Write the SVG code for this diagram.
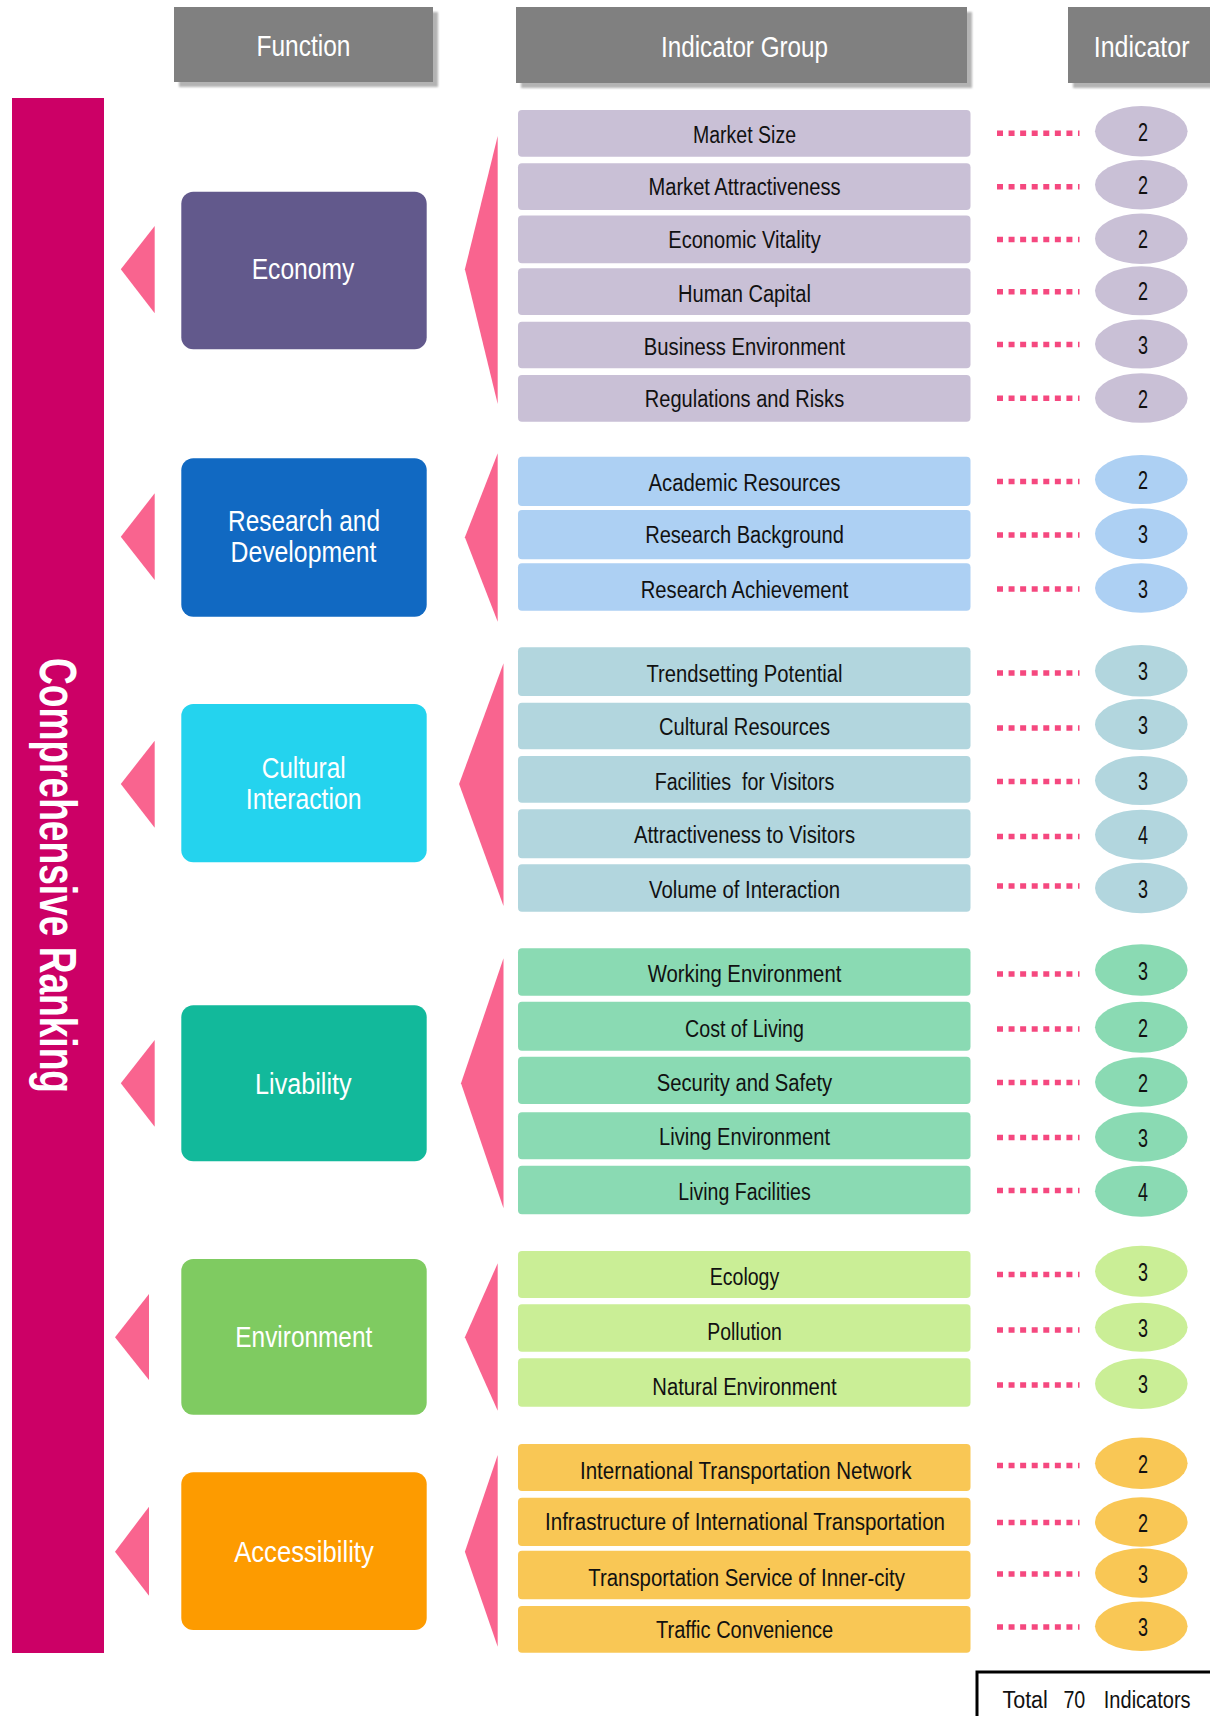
<svg xmlns="http://www.w3.org/2000/svg" width="1210" height="1716" viewBox="0 0 1210 1716">
<defs>
<filter id="sh" x="-10%" y="-10%" width="130%" height="140%">
<feDropShadow dx="5" dy="5" stdDeviation="1.2" flood-color="#9a9a9a" flood-opacity="0.75"/>
</filter>
<style>
text{font-family:"Liberation Sans",Arial,sans-serif;}
.hdr{fill:#808080;filter:url(#sh);}
.ht{fill:#fff;font-size:30px;text-anchor:middle;}
.fn{fill:#fff;font-size:30px;text-anchor:middle;}
.rt{fill:#111;font-size:23px;text-anchor:middle;}
.nt{fill:#111;font-size:26px;text-anchor:middle;}
.tri{fill:#F9648F;}
.dot{stroke:#F5487F;stroke-width:5.5;stroke-dasharray:6 5.57;fill:none;}
.eco{fill:#C9C0D6;}.rnd{fill:#ADD0F3;}.cul{fill:#B2D6DE;}.liv{fill:#8ADAB3;}.env{fill:#CAEE96;}.acc{fill:#F9C755;}
</style>
</defs>
<rect width="1210" height="1716" fill="#fff"/>

<g id="headers">
<g id="hdr-function"><rect class="hdr" x="174" y="7" width="259" height="75"/><text class="ht" x="303.5" y="56" textLength="94" lengthAdjust="spacingAndGlyphs">Function</text></g>
<g id="hdr-group"><rect class="hdr" x="516" y="7" width="451" height="76"/><text class="ht" x="744.5" y="56.7" textLength="167" lengthAdjust="spacingAndGlyphs">Indicator Group</text></g>
<g id="hdr-indicator"><rect class="hdr" x="1068" y="7" width="150" height="76"/><text class="ht" x="1141.6" y="56.7" textLength="95.7" lengthAdjust="spacingAndGlyphs">Indicator</text></g>
</g>

<g id="ranking">
<rect x="12" y="98" width="92" height="1555" fill="#CC0066"/>
<text transform="translate(40,875.5) rotate(90)" text-anchor="middle" font-size="52" font-weight="bold" fill="#fff" textLength="435" lengthAdjust="spacingAndGlyphs">Comprehensive Ranking</text>
</g>

<g id="connectors">
<polygon class="tri" points="120.8,269.3 154.7,226 154.7,313.3"/>
<polygon class="tri" points="120.8,536.7 154.7,493.3 154.7,580"/>
<polygon class="tri" points="120.8,784 154.7,740.7 154.7,827.7"/>
<polygon class="tri" points="120.8,1083.3 154.7,1040 154.7,1126.7"/>
<polygon class="tri" points="115,1337.3 149,1294 149,1380"/>
<polygon class="tri" points="115,1551.7 149,1506.7 149,1595.7"/>
<polygon class="tri" points="464.9,269.3 497.7,136 497.7,404"/>
<polygon class="tri" points="464.9,537.3 497.7,453.3 497.7,621.7"/>
<polygon class="tri" points="459.1,784 503.5,663.3 503.5,906"/>
<polygon class="tri" points="461,1083.3 503.5,958.3 503.5,1208.3"/>
<polygon class="tri" points="464.9,1337.3 497.7,1263.3 497.7,1410.7"/>
<polygon class="tri" points="464.9,1551.7 497.7,1455 497.7,1646.7"/>
<line class="dot" x1="997" y1="133.3" x2="1079.5" y2="133.3"/>
<line class="dot" x1="997" y1="186.7" x2="1079.5" y2="186.7"/>
<line class="dot" x1="997" y1="239.5" x2="1079.5" y2="239.5"/>
<line class="dot" x1="997" y1="291.7" x2="1079.5" y2="291.7"/>
<line class="dot" x1="997" y1="344.5" x2="1079.5" y2="344.5"/>
<line class="dot" x1="997" y1="398.3" x2="1079.5" y2="398.3"/>
<line class="dot" x1="997" y1="481.5" x2="1079.5" y2="481.5"/>
<line class="dot" x1="997" y1="535" x2="1079.5" y2="535"/>
<line class="dot" x1="997" y1="589" x2="1079.5" y2="589"/>
<line class="dot" x1="997" y1="673" x2="1079.5" y2="673"/>
<line class="dot" x1="997" y1="728" x2="1079.5" y2="728"/>
<line class="dot" x1="997" y1="781.5" x2="1079.5" y2="781.5"/>
<line class="dot" x1="997" y1="836.5" x2="1079.5" y2="836.5"/>
<line class="dot" x1="997" y1="886" x2="1079.5" y2="886"/>
<line class="dot" x1="997" y1="974" x2="1079.5" y2="974"/>
<line class="dot" x1="997" y1="1029" x2="1079.5" y2="1029"/>
<line class="dot" x1="997" y1="1082.5" x2="1079.5" y2="1082.5"/>
<line class="dot" x1="997" y1="1137.5" x2="1079.5" y2="1137.5"/>
<line class="dot" x1="997" y1="1190.5" x2="1079.5" y2="1190.5"/>
<line class="dot" x1="997" y1="1274.5" x2="1079.5" y2="1274.5"/>
<line class="dot" x1="997" y1="1330" x2="1079.5" y2="1330"/>
<line class="dot" x1="997" y1="1385" x2="1079.5" y2="1385"/>
<line class="dot" x1="997" y1="1465.5" x2="1079.5" y2="1465.5"/>
<line class="dot" x1="997" y1="1522.5" x2="1079.5" y2="1522.5"/>
<line class="dot" x1="997" y1="1574" x2="1079.5" y2="1574"/>
<line class="dot" x1="997" y1="1627" x2="1079.5" y2="1627"/>
</g>

<g id="functions">
<g id="fn-economy"><rect x="181.3" y="191.7" width="245.4" height="157.6" rx="12" fill="#62598C"/><text class="fn" x="303" y="279.3" textLength="102.6" lengthAdjust="spacingAndGlyphs">Economy</text></g>
<g id="fn-rnd"><rect x="181.3" y="458.3" width="245.4" height="158.4" rx="12" fill="#1169C2"/><text class="fn" x="304" y="531" textLength="152" lengthAdjust="spacingAndGlyphs">Research and</text><text class="fn" x="303.5" y="562.3" textLength="146" lengthAdjust="spacingAndGlyphs">Development</text></g>
<g id="fn-cultural"><rect x="181.3" y="704" width="245.4" height="158.3" rx="12" fill="#24D3EE"/><text class="fn" x="303.7" y="777.7" textLength="84" lengthAdjust="spacingAndGlyphs">Cultural</text><text class="fn" x="303.7" y="809" textLength="115.7" lengthAdjust="spacingAndGlyphs">Interaction</text></g>
<g id="fn-livability"><rect x="181.3" y="1005.3" width="245.4" height="156" rx="12" fill="#12B99B"/><text class="fn" x="303.3" y="1094" textLength="96.5" lengthAdjust="spacingAndGlyphs">Livability</text></g>
<g id="fn-environment"><rect x="181.3" y="1259" width="245.4" height="155.7" rx="12" fill="#7FCB61"/><text class="fn" x="303.8" y="1346.7" textLength="137" lengthAdjust="spacingAndGlyphs">Environment</text></g>
<g id="fn-accessibility"><rect x="181.3" y="1472.3" width="245.4" height="157.7" rx="12" fill="#FD9B00"/><text class="fn" x="304" y="1561.7" textLength="139.6" lengthAdjust="spacingAndGlyphs">Accessibility</text></g>
</g>

<g id="groups">
<g id="g-market-size"><rect class="eco" x="518" y="110" width="452.5" height="46.7" rx="4"/><text class="rt" x="744.5" y="143.3" textLength="103" lengthAdjust="spacingAndGlyphs">Market Size</text></g>
<g id="g-market-attr"><rect class="eco" x="518" y="163.3" width="452.5" height="46.7" rx="4"/><text class="rt" x="744.5" y="195" textLength="192" lengthAdjust="spacingAndGlyphs">Market Attractiveness</text></g>
<g id="g-econ-vitality"><rect class="eco" x="518" y="215.5" width="452.5" height="47.8" rx="4"/><text class="rt" x="744.5" y="248.3" textLength="152.4" lengthAdjust="spacingAndGlyphs">Economic Vitality</text></g>
<g id="g-human-capital"><rect class="eco" x="518" y="268.3" width="452.5" height="46.7" rx="4"/><text class="rt" x="744.5" y="301.7" textLength="133" lengthAdjust="spacingAndGlyphs">Human Capital</text></g>
<g id="g-business-env"><rect class="eco" x="518" y="321.7" width="452.5" height="46.6" rx="4"/><text class="rt" x="744.5" y="355" textLength="201.4" lengthAdjust="spacingAndGlyphs">Business Environment</text></g>
<g id="g-regulations"><rect class="eco" x="518" y="375" width="452.5" height="46.7" rx="4"/><text class="rt" x="744.5" y="407.3" textLength="199.3" lengthAdjust="spacingAndGlyphs">Regulations and Risks</text></g>

<g id="g-academic"><rect class="rnd" x="518" y="456.7" width="452.5" height="49.3" rx="4"/><text class="rt" x="744.5" y="490.7" textLength="192" lengthAdjust="spacingAndGlyphs">Academic Resources</text></g>
<g id="g-research-bg"><rect class="rnd" x="518" y="510" width="452.5" height="49.3" rx="4"/><text class="rt" x="744.5" y="543.3" textLength="198.7" lengthAdjust="spacingAndGlyphs">Research Background</text></g>
<g id="g-research-ach"><rect class="rnd" x="518" y="563.3" width="452.5" height="47.4" rx="4"/><text class="rt" x="744.5" y="598.3" textLength="207.5" lengthAdjust="spacingAndGlyphs">Research Achievement</text></g>

<g id="g-trendsetting"><rect class="cul" x="518" y="647.3" width="452.5" height="48.7" rx="4"/><text class="rt" x="744.5" y="681.7" textLength="196" lengthAdjust="spacingAndGlyphs">Trendsetting Potential</text></g>
<g id="g-cultural-res"><rect class="cul" x="518" y="702.7" width="452.5" height="46.6" rx="4"/><text class="rt" x="744.5" y="735" textLength="171" lengthAdjust="spacingAndGlyphs">Cultural Resources</text></g>
<g id="g-facilities"><rect class="cul" x="518" y="756" width="452.5" height="46.7" rx="4"/><text class="rt" x="744.5" y="790" textLength="179.6" lengthAdjust="spacingAndGlyphs" xml:space="preserve">Facilities  for Visitors</text></g>
<g id="g-attractiveness"><rect class="cul" x="518" y="809.3" width="452.5" height="49" rx="4"/><text class="rt" x="744.5" y="843.3" textLength="221" lengthAdjust="spacingAndGlyphs">Attractiveness to Visitors</text></g>
<g id="g-volume"><rect class="cul" x="518" y="864.3" width="452.5" height="47.4" rx="4"/><text class="rt" x="744.5" y="898.3" textLength="191" lengthAdjust="spacingAndGlyphs">Volume of Interaction</text></g>

<g id="g-working-env"><rect class="liv" x="518" y="948.3" width="452.5" height="47.4" rx="4"/><text class="rt" x="744.5" y="981.7" textLength="193.7" lengthAdjust="spacingAndGlyphs">Working Environment</text></g>
<g id="g-cost"><rect class="liv" x="518" y="1001.7" width="452.5" height="49" rx="4"/><text class="rt" x="744.5" y="1036.7" textLength="118.8" lengthAdjust="spacingAndGlyphs">Cost of Living</text></g>
<g id="g-security"><rect class="liv" x="518" y="1056.7" width="452.5" height="47.3" rx="4"/><text class="rt" x="744.5" y="1091" textLength="175.5" lengthAdjust="spacingAndGlyphs">Security and Safety</text></g>
<g id="g-living-env"><rect class="liv" x="518" y="1112.3" width="452.5" height="47" rx="4"/><text class="rt" x="744.5" y="1145" textLength="171" lengthAdjust="spacingAndGlyphs">Living Environment</text></g>
<g id="g-living-fac"><rect class="liv" x="518" y="1165.7" width="452.5" height="48.6" rx="4"/><text class="rt" x="744.5" y="1200" textLength="132.3" lengthAdjust="spacingAndGlyphs">Living Facilities</text></g>

<g id="g-ecology"><rect class="env" x="518" y="1251" width="452.5" height="47" rx="4"/><text class="rt" x="744.5" y="1285" textLength="69.5" lengthAdjust="spacingAndGlyphs">Ecology</text></g>
<g id="g-pollution"><rect class="env" x="518" y="1304.3" width="452.5" height="47.4" rx="4"/><text class="rt" x="744.5" y="1340" textLength="74.5" lengthAdjust="spacingAndGlyphs">Pollution</text></g>
<g id="g-natural"><rect class="env" x="518" y="1358.3" width="452.5" height="48.4" rx="4"/><text class="rt" x="744.5" y="1395" textLength="184.4" lengthAdjust="spacingAndGlyphs">Natural Environment</text></g>

<g id="g-intl-network"><rect class="acc" x="518" y="1444" width="452.5" height="47" rx="4"/><text class="rt" x="745.8" y="1479.3" textLength="331.7" lengthAdjust="spacingAndGlyphs">International Transportation Network</text></g>
<g id="g-infrastructure"><rect class="acc" x="518" y="1497.7" width="452.5" height="48.3" rx="4"/><text class="rt" x="745" y="1530" textLength="400" lengthAdjust="spacingAndGlyphs">Infrastructure of International Transportation</text></g>
<g id="g-inner-city"><rect class="acc" x="518" y="1550.7" width="452.5" height="48.6" rx="4"/><text class="rt" x="746.6" y="1586" textLength="316.7" lengthAdjust="spacingAndGlyphs">Transportation Service of Inner-city</text></g>
<g id="g-traffic"><rect class="acc" x="518" y="1606" width="452.5" height="46.7" rx="4"/><text class="rt" x="744.6" y="1638.3" textLength="177.3" lengthAdjust="spacingAndGlyphs">Traffic Convenience</text></g>
</g>

<g id="indicators">
<g><ellipse class="eco" cx="1141.3" cy="131.3" rx="46.3" ry="25.2"/><text class="nt" x="1143" y="140.8" textLength="10" lengthAdjust="spacingAndGlyphs">2</text></g>
<g><ellipse class="eco" cx="1141.3" cy="184.7" rx="46.3" ry="24.7"/><text class="nt" x="1143" y="194.2" textLength="10" lengthAdjust="spacingAndGlyphs">2</text></g>
<g><ellipse class="eco" cx="1141.3" cy="238.7" rx="46.3" ry="25.2"/><text class="nt" x="1143" y="248.2" textLength="10" lengthAdjust="spacingAndGlyphs">2</text></g>
<g><ellipse class="eco" cx="1141.3" cy="290.8" rx="46.3" ry="24.5"/><text class="nt" x="1143" y="300.3" textLength="10" lengthAdjust="spacingAndGlyphs">2</text></g>
<g><ellipse class="eco" cx="1141.3" cy="344" rx="46.3" ry="24.5"/><text class="nt" x="1143" y="353.5" textLength="10" lengthAdjust="spacingAndGlyphs">3</text></g>
<g><ellipse class="eco" cx="1141.3" cy="398" rx="46.3" ry="24.8"/><text class="nt" x="1143" y="407.5" textLength="10" lengthAdjust="spacingAndGlyphs">2</text></g>

<g><ellipse class="rnd" cx="1141.3" cy="479.5" rx="46.3" ry="24.5"/><text class="nt" x="1143" y="489" textLength="10" lengthAdjust="spacingAndGlyphs">2</text></g>
<g><ellipse class="rnd" cx="1141.3" cy="533.8" rx="46.3" ry="25.5"/><text class="nt" x="1143" y="543.3" textLength="10" lengthAdjust="spacingAndGlyphs">3</text></g>
<g><ellipse class="rnd" cx="1141.3" cy="588" rx="46.3" ry="24.7"/><text class="nt" x="1143" y="597.5" textLength="10" lengthAdjust="spacingAndGlyphs">3</text></g>

<g><ellipse class="cul" cx="1141.3" cy="670.8" rx="46.3" ry="25.8"/><text class="nt" x="1143" y="680.3" textLength="10" lengthAdjust="spacingAndGlyphs">3</text></g>
<g><ellipse class="cul" cx="1141.3" cy="724.5" rx="46.3" ry="25.5"/><text class="nt" x="1143" y="734" textLength="10" lengthAdjust="spacingAndGlyphs">3</text></g>
<g><ellipse class="cul" cx="1141.3" cy="780.5" rx="46.3" ry="24.5"/><text class="nt" x="1143" y="790" textLength="10" lengthAdjust="spacingAndGlyphs">3</text></g>
<g><ellipse class="cul" cx="1141.3" cy="834.7" rx="46.3" ry="25"/><text class="nt" x="1143" y="844.2" textLength="10" lengthAdjust="spacingAndGlyphs">4</text></g>
<g><ellipse class="cul" cx="1141.3" cy="888" rx="46.3" ry="25.3"/><text class="nt" x="1143" y="897.5" textLength="10" lengthAdjust="spacingAndGlyphs">3</text></g>

<g><ellipse class="liv" cx="1141.3" cy="970" rx="46.3" ry="25.7"/><text class="nt" x="1143" y="979.5" textLength="10" lengthAdjust="spacingAndGlyphs">3</text></g>
<g><ellipse class="liv" cx="1141.3" cy="1027.2" rx="46.3" ry="25.5"/><text class="nt" x="1143" y="1036.7" textLength="10" lengthAdjust="spacingAndGlyphs">2</text></g>
<g><ellipse class="liv" cx="1141.3" cy="1082" rx="46.3" ry="24.7"/><text class="nt" x="1143" y="1091.5" textLength="10" lengthAdjust="spacingAndGlyphs">2</text></g>
<g><ellipse class="liv" cx="1141.3" cy="1137" rx="46.3" ry="24.7"/><text class="nt" x="1143" y="1146.5" textLength="10" lengthAdjust="spacingAndGlyphs">3</text></g>
<g><ellipse class="liv" cx="1141.3" cy="1191.2" rx="46.3" ry="25.5"/><text class="nt" x="1143" y="1200.7" textLength="10" lengthAdjust="spacingAndGlyphs">4</text></g>

<g><ellipse class="env" cx="1141.3" cy="1271.2" rx="46.3" ry="25.5"/><text class="nt" x="1143" y="1280.7" textLength="10" lengthAdjust="spacingAndGlyphs">3</text></g>
<g><ellipse class="env" cx="1141.3" cy="1327.2" rx="46.3" ry="24.5"/><text class="nt" x="1143" y="1336.7" textLength="10" lengthAdjust="spacingAndGlyphs">3</text></g>
<g><ellipse class="env" cx="1141.3" cy="1383.7" rx="46.3" ry="25.3"/><text class="nt" x="1143" y="1393.2" textLength="10" lengthAdjust="spacingAndGlyphs">3</text></g>

<g><ellipse class="acc" cx="1141.3" cy="1463.3" rx="46.3" ry="25.7"/><text class="nt" x="1143" y="1472.8" textLength="10" lengthAdjust="spacingAndGlyphs">2</text></g>
<g><ellipse class="acc" cx="1141.3" cy="1522" rx="46.3" ry="24.7"/><text class="nt" x="1143" y="1531.5" textLength="10" lengthAdjust="spacingAndGlyphs">2</text></g>
<g><ellipse class="acc" cx="1141.3" cy="1573" rx="46.3" ry="24.7"/><text class="nt" x="1143" y="1582.5" textLength="10" lengthAdjust="spacingAndGlyphs">3</text></g>
<g><ellipse class="acc" cx="1141.3" cy="1626.3" rx="46.3" ry="24.7"/><text class="nt" x="1143" y="1635.8" textLength="10" lengthAdjust="spacingAndGlyphs">3</text></g>
</g>

<g id="total">
<rect x="977" y="1672" width="240" height="50" fill="#fff" stroke="#000" stroke-width="3"/>
<text font-size="23" fill="#111"><tspan x="1002.4" y="1708.3" textLength="45.5" lengthAdjust="spacingAndGlyphs">Total</tspan><tspan x="1063.4" y="1708.3" textLength="21.9" lengthAdjust="spacingAndGlyphs">70</tspan><tspan x="1103.8" y="1708.3" textLength="86.8" lengthAdjust="spacingAndGlyphs">Indicators</tspan></text>
</g>
</svg>
